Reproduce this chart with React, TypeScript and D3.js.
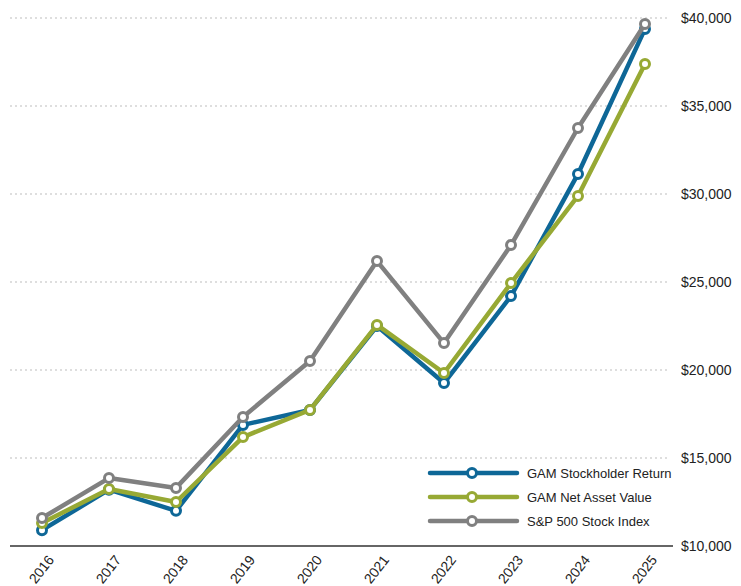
import React, { useEffect, useRef } from "react";
import * as d3 from "d3";

const years = ["2016", "2017", "2018", "2019", "2020", "2021", "2022", "2023", "2024", "2025"];
const stockholderReturn = [10900, 13200, 12000, 16880, 17730, 22500, 19260, 24200, 31140, 39380];
const netAssetValue = [11300, 13240, 12500, 16190, 17730, 22560, 19830, 24940, 29890, 37390];
const sp500 = [11590, 13860, 13300, 17330, 20510, 26190, 21530, 27100, 33750, 39660];
const yTicks = [10000, 15000, 20000, 25000, 30000, 35000, 40000];

const seriesList = [
  { name: "GAM Stockholder Return", values: stockholderReturn, color: "#0e6797" },
  { name: "GAM Net Asset Value", values: netAssetValue, color: "#97a934" },
  { name: "S&P 500 Stock Index", values: sp500, color: "#808080" },
];

const FONT = "'Liberation Sans', Arial, Helvetica, sans-serif";

const App = () => {
  const chartRef = useRef<SVGSVGElement | null>(null);

  useEffect(() => {
    if (!chartRef.current) return;
    const svg = d3.select(chartRef.current);
    svg.selectAll("*").remove();

    const width = 741;
    const height = 586;
    const plotLeft = 10;
    const plotRight = 673;

    const x = d3.scalePoint<string>().domain(years).range([42, 645]);
    const y = d3.scaleLinear().domain([10000, 40000]).range([546, 18]);

    svg.attr("width", width).attr("height", height);
    const g = svg.append("g");

    // grid lines
    g.append("g")
      .selectAll("line")
      .data(yTicks.filter((t) => t > 10000))
      .enter()
      .append("line")
      .attr("x1", plotLeft)
      .attr("x2", plotRight - 5)
      .attr("y1", (d) => y(d))
      .attr("y2", (d) => y(d))
      .attr("stroke", "#bdbdbd")
      .attr("stroke-width", 1)
      .attr("stroke-dasharray", "2,3");

    // baseline
    g.append("line")
      .attr("x1", plotLeft)
      .attr("x2", plotRight)
      .attr("y1", y(10000))
      .attr("y2", y(10000))
      .attr("stroke", "#333")
      .attr("stroke-width", 1.5);

    // right axis labels
    g.append("g")
      .attr("transform", `translate(681, 0)`)
      .call(
        d3
          .axisRight(y)
          .tickValues(yTicks)
          .tickSize(0)
          .tickPadding(0)
          .tickFormat((d) => "$" + d3.format(",")(d as number)),
      )
      .call((a) => {
        a.select(".domain").remove();
        a.selectAll("text")
          .attr("fill", "#222")
          .attr("font-size", 14)
          .attr("font-family", FONT);
      });

    // x labels
    g.append("g")
      .selectAll("text")
      .data(years)
      .enter()
      .append("text")
      .attr("transform", (d) => `translate(${x(d)! + 9}, 557) rotate(-52)`)
      .attr("text-anchor", "end")
      .attr("dy", "0.35em")
      .attr("font-size", 14)
      .attr("font-family", FONT)
      .attr("fill", "#222")
      .text((d) => d);

    const line = d3
      .line<number>()
      .x((_, i) => x(years[i])!)
      .y((d) => y(d));

    seriesList.forEach((s) => {
      const sg = g.append("g");
      sg.append("path")
        .datum(s.values)
        .attr("d", line)
        .attr("fill", "none")
        .attr("stroke", s.color)
        .attr("stroke-width", 4.5)
        .attr("stroke-linejoin", "round");
      sg.selectAll("circle")
        .data(s.values)
        .enter()
        .append("circle")
        .attr("cx", (_, i) => x(years[i])!)
        .attr("cy", (d) => y(d))
        .attr("r", 4.5)
        .attr("fill", "#fff")
        .attr("stroke", s.color)
        .attr("stroke-width", 3);
    });

    // legend
    const legend = g.append("g");
    seriesList.forEach((s, i) => {
      const ly = 473 + i * 24;
      legend
        .append("line")
        .attr("x1", 430)
        .attr("x2", 517)
        .attr("y1", ly)
        .attr("y2", ly)
        .attr("stroke", s.color)
        .attr("stroke-width", 4.5)
        .attr("stroke-linecap", "round");
      legend
        .append("circle")
        .attr("cx", 472)
        .attr("cy", ly)
        .attr("r", 4.5)
        .attr("fill", "#fff")
        .attr("stroke", s.color)
        .attr("stroke-width", 3);
      legend
        .append("text")
        .attr("x", 527)
        .attr("y", ly)
        .attr("dy", "0.35em")
        .attr("font-size", 13)
        .attr("font-family", FONT)
        .attr("fill", "#222")
        .text(s.name);
    });
  }, []);

  return (
    <svg
      ref={chartRef}
      style={{ position: "absolute", left: 0, top: 0, background: "#fff" }}
    ></svg>
  );
};

export default App;
